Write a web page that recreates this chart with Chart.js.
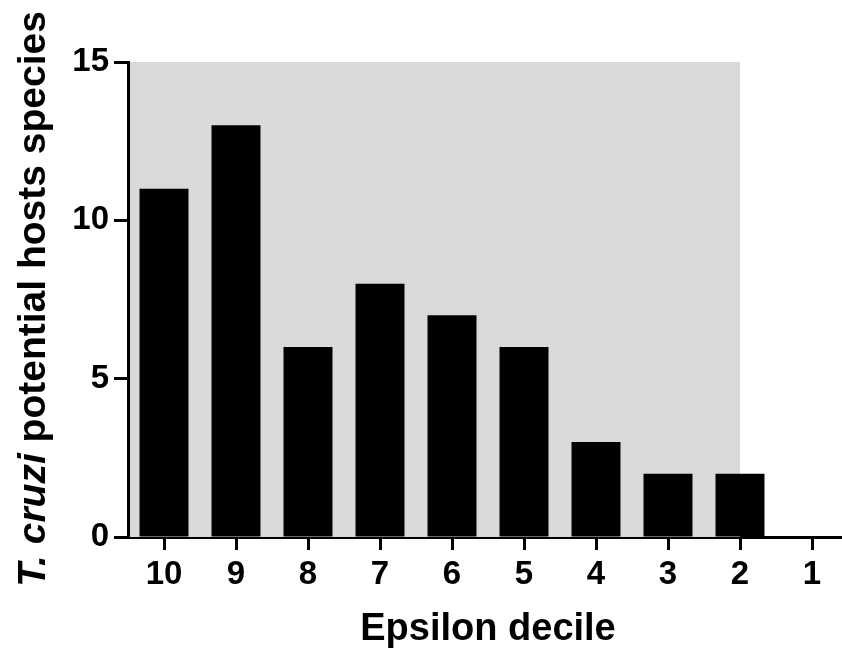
<!DOCTYPE html>
<html>
<head>
<meta charset="utf-8">
<script src="https://cdn.jsdelivr.net/npm/chart.js@4/dist/chart.umd.min.js"></script>
<style>
html,body{margin:0;padding:0;background:#fff;overflow:hidden;width:842px;height:657px;}
#wrap{width:848px;height:657px;}
</style>
</head>
<body>
<div id="wrap"><canvas id="c" width="848" height="657"></canvas></div>
<script>
const categories = ["10","9","8","7","6","5","4","3","2","1"];
const hostSpecies = [11,13,6,8,7,6,3,2,2,0];
const yTicks = [0,5,10,15];
const xTitle = "Epsilon decile";
const yTitleItalic = "T. cruzi";
const yTitleRest = " potential hosts species";
const shadedUntil = "2";

const FONT = "'Liberation Sans', Arial, Helvetica, sans-serif";

const bgPlugin = {
  id: 'bgShade',
  beforeDatasetsDraw(chart) {
    const {ctx, chartArea, scales} = chart;
    const x = scales.x, y = scales.y;
    const xr = x.getPixelForValue(categories.indexOf(shadedUntil));
    const yt = y.getPixelForValue(15), yb = y.getPixelForValue(0);
    ctx.save();
    ctx.fillStyle = '#d9d9d9';
    ctx.fillRect(chartArea.left + 2, yt, xr - chartArea.left - 2, yb - yt);
    ctx.restore();
  }
};

const yTitlePlugin = {
  id: 'yTitle',
  afterDraw(chart) {
    const ctx = chart.ctx;
    const cx = 45, cy = 299;
    ctx.save();
    ctx.translate(cx, cy);
    ctx.rotate(-Math.PI/2);
    ctx.fillStyle = '#000';
    ctx.textBaseline = 'alphabetic';
    ctx.textAlign = 'left';
    const f1 = "italic bold 39px " + FONT;
    const f2 = "bold 39px " + FONT;
    ctx.font = f1; const w1 = ctx.measureText(yTitleItalic).width;
    ctx.font = f2; const w2 = ctx.measureText(yTitleRest).width;
    let start = -(w1 + w2)/2;
    ctx.font = f1; ctx.fillText(yTitleItalic, start, 0);
    ctx.font = f2; ctx.fillText(yTitleRest, start + w1, 0);
    ctx.restore();
  }
};

new Chart(document.getElementById('c'), {
  type: 'bar',
  data: {
    labels: categories,
    datasets: [{
      data: hostSpecies,
      backgroundColor: '#000',
      borderWidth: 0,
      barPercentage: 0.68,
      categoryPercentage: 1.0
    }]
  },
  options: {
    responsive: false,
    animation: false,
    events: [],
    layout: {padding: {top: 62, right: 0, left: 0, bottom: 0}},
    plugins: {legend: {display: false}, tooltip: {enabled: false}},
    scales: {
      x: {
        afterFit: s => { s.height = 120; },
        border: {display: true, color: '#000', width: 3},
        grid: {display: true, drawOnChartArea: false, offset: false, tickLength: 13, tickWidth: 3, tickColor: '#000', color: '#000'},
        ticks: {color: '#000', font: {family: FONT, size: 33, weight: 'bold'}, padding: 5, maxRotation: 0, autoSkip: false},
        title: {display: true, text: xTitle, color: '#000', font: {family: FONT, size: 38, weight: 'bold'}, padding: {top: 0, bottom: 5}}
      },
      y: {
        min: 0, max: 15,
        afterFit: s => { s.width = 128; },
        afterBuildTicks: s => { s.ticks = yTicks.map(v => ({value: v})); },
        border: {display: true, color: '#000', width: 3},
        grid: {display: true, drawOnChartArea: false, tickLength: 14, tickWidth: 3, tickColor: '#000', color: '#000'},
        ticks: {color: '#000', font: {family: FONT, size: 33, weight: 'bold'}, padding: 5}
      }
    }
  },
  plugins: [bgPlugin, yTitlePlugin]
});
</script>
</body>
</html>
